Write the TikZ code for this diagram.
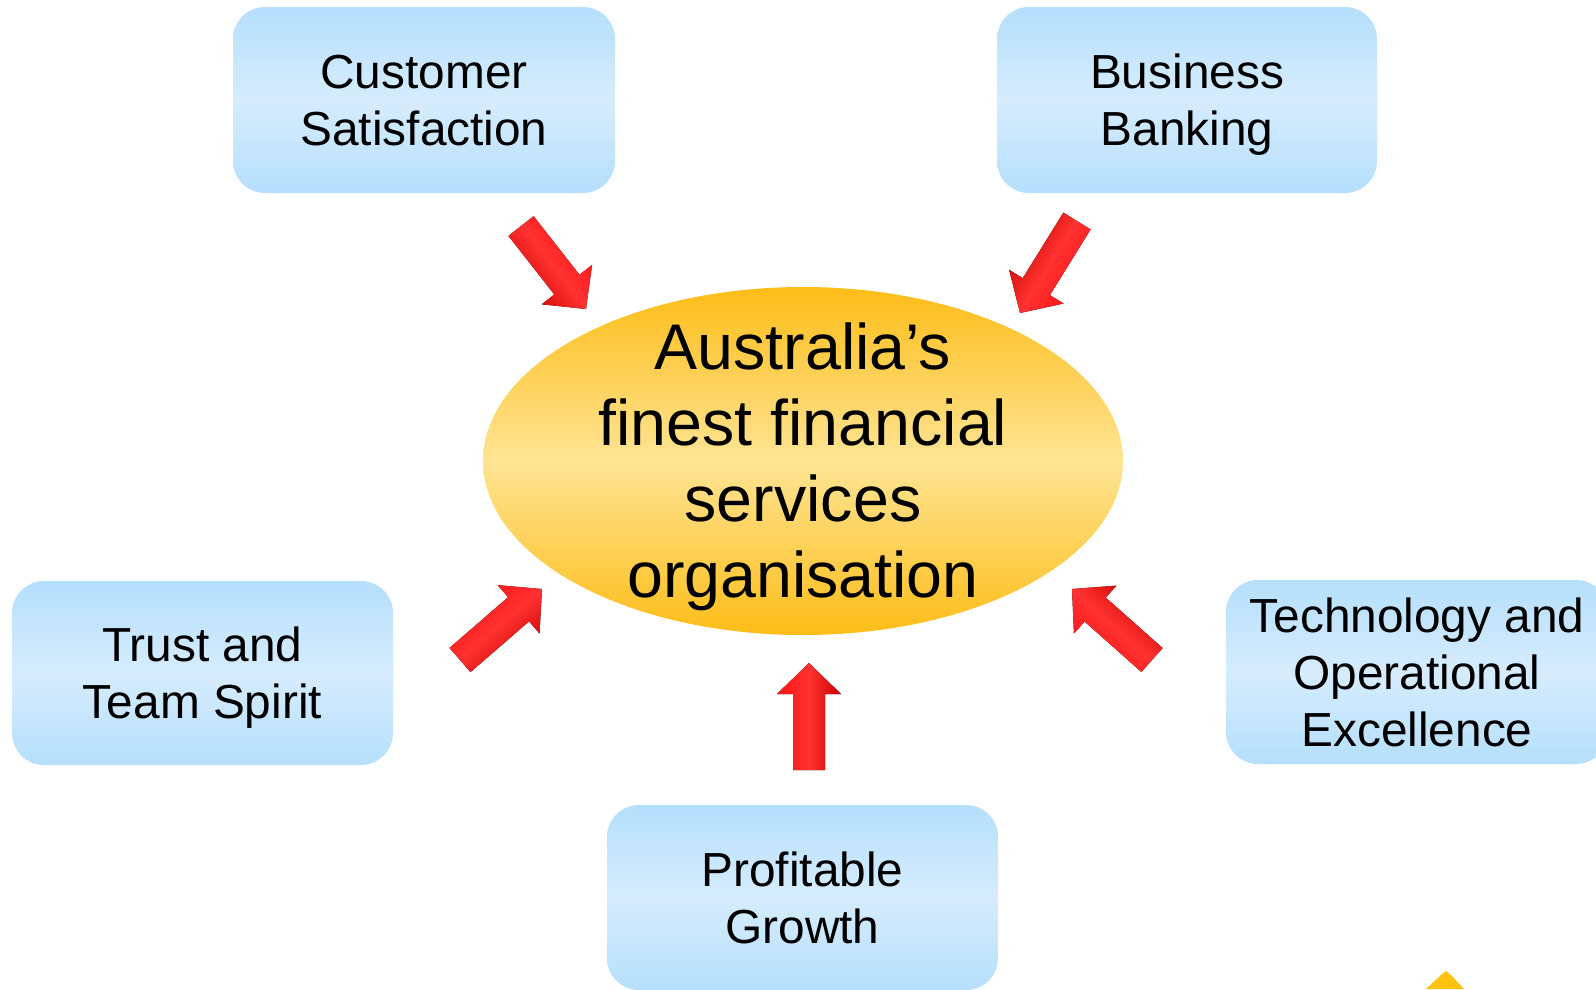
\documentclass[tikz,border=0pt]{standalone}
\usepackage{fontspec}
\setmainfont{Liberation Sans}
\usetikzlibrary{shapes.geometric,calc}

\definecolor{boxedge}{RGB}{181,223,252}
\definecolor{boxmid}{RGB}{214,236,253}
\definecolor{goldedge}{RGB}{253,189,24}
\definecolor{goldmid}{RGB}{254,228,148}
\definecolor{redA}{RGB}{255,18,18}
\definecolor{redB}{RGB}{255,50,50}
\definecolor{redC}{RGB}{205,0,0}
\definecolor{logoyellow}{RGB}{255,194,14}

\tikzset{
  pillar/.style={rectangle, rounded corners=32pt, inner sep=0pt, text depth=0pt,
    top color=boxedge, bottom color=boxedge, middle color=boxmid,
    align=center, font=\fontsize{47.8}{57}\selectfont},
  goal/.style={ellipse, inner sep=0pt,
    top color=goldedge, bottom color=goldedge, middle color=goldmid},
  goaltext/.style={align=center, inner sep=0pt, font=\fontsize{64.5}{76}\selectfont},
  arrowfill/.style={left color=redA, right color=redC, middle color=redB}
}

% block arrow from tail (#1t) to tip (#1p); #2 = direction angle for the shading
\newcommand\drawpointer[2]{%
  \coordinate (#1n) at ($(#1p)!31pt!(#1t)$);
  \fill[arrowfill, shading angle=#2]
    ($(#1t)!16pt!90:(#1p)$) -- ($(#1n)!16pt!90:(#1p)$) --
    ($(#1n)!32pt!90:(#1p)$) -- (#1p) --
    ($(#1n)!32pt!-90:(#1p)$) -- ($(#1n)!16pt!-90:(#1p)$) --
    ($(#1t)!16pt!-90:(#1p)$) -- cycle;
}

\begin{document}
\begin{tikzpicture}[x=1pt, y=-1pt]
  \useasboundingbox (0,0) rectangle (1596,989);

  % central goal
  \node[goal, minimum width=640pt, minimum height=348pt] (centre) at (803,461) {};
  \node[goaltext] (centretext) at (803,467)
    {Australia’s\\finest financial\\services\\organisation};

  % the five pillars
  \node[pillar, minimum width=382pt, minimum height=186pt] (cust) at (424,100)
    {Customer\\Satisfaction};
  \node[pillar, minimum width=380pt, minimum height=186pt] (biz) at (1187,100)
    {Business\\Banking};
  \node[pillar, minimum width=381pt, minimum height=184pt] (trust) at (202.5,673)
    {Trust and\\Team Spirit};
  \node[pillar, minimum width=382pt, minimum height=184pt] (tech) at (1417,672)
    {Technology and\\Operational\\Excellence};
  \node[pillar, minimum width=391pt, minimum height=185pt] (profit) at (802.5,897.5)
    {Profitable\\Growth};

  % arrows pointing at the goal
  \coordinate (a1t) at (521,226);  \coordinate (a1p) at (586,309);
  \coordinate (a2t) at (1077,221); \coordinate (a2p) at (1020,313);
  \coordinate (a3t) at (460,660);  \coordinate (a3p) at (542,589);
  \coordinate (a4t) at (1152,660); \coordinate (a4p) at (1072,589);
  \coordinate (a5t) at (809,770);  \coordinate (a5p) at (809,663);
  \drawpointer{a1}{-51.9}
  \drawpointer{a2}{-121.8}
  \drawpointer{a3}{40.9}
  \drawpointer{a4}{138.4}
  \drawpointer{a5}{90}

  % corner of the logo at the lower right
  \fill[logoyellow] (1426,989) -- (1441,975) -- (1446,971) -- (1451,975) -- (1464,989) -- cycle;
\end{tikzpicture}
\end{document}
